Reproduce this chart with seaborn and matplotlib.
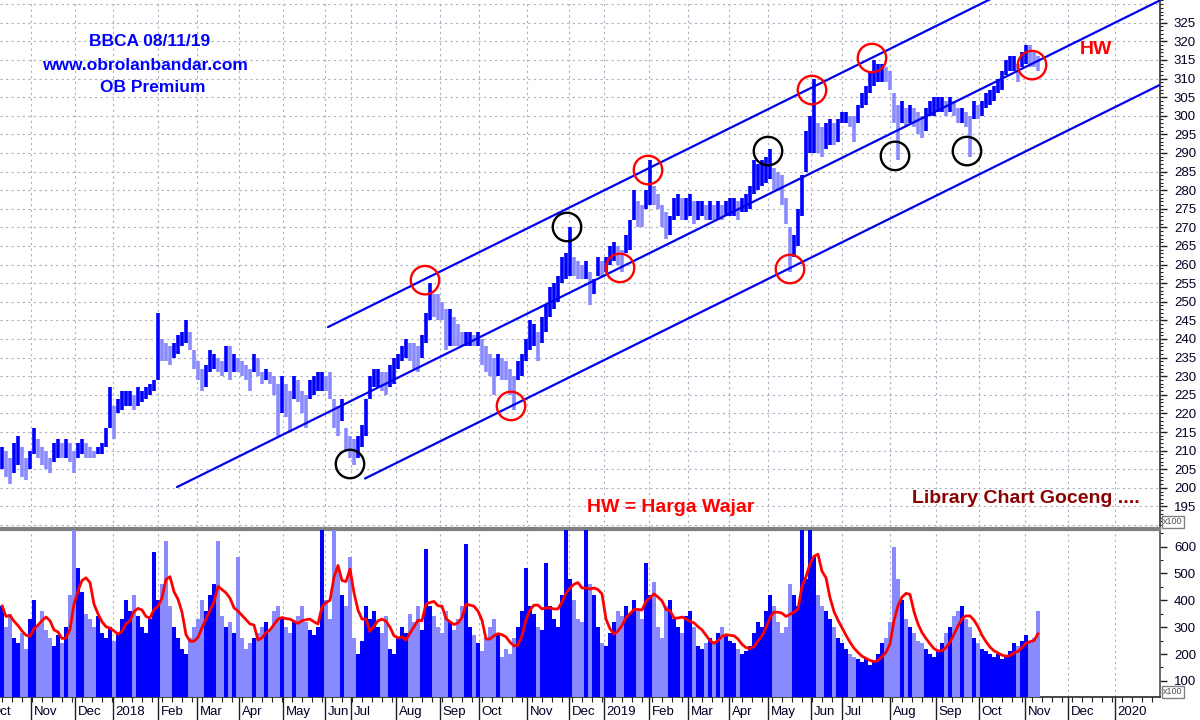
import numpy as np
import pandas as pd
import matplotlib
matplotlib.use("Agg")
import matplotlib.pyplot as plt
import seaborn as sns
from matplotlib.ticker import FixedLocator, MultipleLocator
from matplotlib.transforms import ScaledTranslation

# ---------------- data (each bar = ~2 trading days, values x100) ----------------
price_high = [
    211, 210, 208, 212, 214, 211, 208, 210, 216, 213,
    211, 210, 208, 212, 213, 212, 213, 212, 210, 212,
    213, 212, 211, 210, 211, 212, 216, 227, 222, 224,
    226, 226, 226, 225, 227, 226, 227, 228, 229, 247,
    240, 239, 238, 239, 241, 242, 245, 242, 237, 234,
    232, 233, 237, 236, 235, 234, 238, 238, 236, 235,
    234, 233, 232, 236, 235, 231, 232, 231, 230, 228,
    230, 228, 226, 230, 229, 226, 225, 229, 230, 231,
    231, 230, 231, 224, 222, 224, 216, 214, 213, 214,
    217, 224, 230, 232, 232, 231, 231, 233, 235, 236,
    238, 240, 239, 239, 238, 241, 247, 255, 252, 252,
    250, 248, 248, 246, 244, 242, 242, 242, 241, 242,
    240, 238, 236, 235, 236, 235, 234, 232, 230, 234,
    236, 240, 245, 244, 242, 246, 249, 254, 255, 257,
    262, 263, 270, 262, 261, 260, 261, 258, 256, 262,
    261, 262, 265, 266, 265, 264, 268, 272, 280, 277,
    276, 280, 288, 281, 279, 276, 274, 273, 278, 279,
    278, 278, 279, 277, 277, 277, 276, 277, 276, 277,
    276, 277, 278, 278, 277, 278, 279, 281, 288, 287,
    288, 289, 291, 286, 285, 284, 278, 270, 268, 275,
    284, 296, 300, 310, 298, 297, 298, 299, 298, 299,
    301, 301, 300, 300, 303, 306, 308, 312, 315, 314,
    314, 313, 312, 306, 303, 304, 302, 303, 302, 301,
    300, 302, 304, 305, 305, 305, 304, 305, 304, 302,
    302, 301, 300, 304, 303, 304, 306, 307, 308, 310,
    312, 315, 316, 316, 314, 317, 319, 319, 317, 316,
]
price_low = [
    205, 203, 201, 204, 206, 203, 202, 205, 209, 208,
    206, 205, 204, 207, 208, 208, 208, 207, 204, 208,
    209, 208, 208, 208, 209, 209, 211, 216, 213, 220,
    221, 222, 222, 221, 222, 223, 224, 225, 226, 229,
    234, 234, 233, 235, 236, 238, 239, 237, 232, 229,
    226, 227, 231, 232, 231, 230, 231, 229, 231, 231,
    230, 229, 226, 231, 230, 228, 229, 228, 225, 214,
    220, 219, 215, 224, 223, 220, 216, 224, 225, 226,
    226, 226, 224, 216, 214, 218, 210, 208, 206, 208,
    211, 214, 224, 227, 227, 226, 225, 227, 228, 232,
    234, 235, 234, 232, 231, 235, 239, 245, 246, 245,
    245, 237, 238, 238, 238, 238, 238, 238, 238, 238,
    233, 231, 230, 225, 230, 229, 229, 225, 221, 229,
    230, 234, 237, 238, 234, 239, 242, 246, 248, 250,
    255, 256, 257, 257, 256, 256, 256, 249, 252, 257,
    257, 258, 260, 261, 260, 258, 263, 264, 272, 270,
    270, 275, 276, 276, 275, 270, 267, 268, 272, 273,
    272, 272, 273, 271, 272, 273, 272, 272, 272, 272,
    272, 273, 273, 273, 272, 274, 274, 275, 279, 280,
    281, 282, 283, 280, 280, 276, 271, 258, 262, 265,
    273, 285, 290, 290, 290, 289, 291, 292, 292, 293,
    298, 298, 297, 293, 298, 302, 303, 306, 308, 309,
    309, 309, 307, 298, 288, 298, 297, 298, 297, 295,
    294, 296, 300, 300, 301, 301, 300, 301, 300, 298,
    298, 297, 289, 299, 299, 300, 302, 303, 304, 306,
    307, 311, 312, 312, 309, 313, 314, 313, 313, 312,
]
volume = [
    380, 300, 350, 260, 240, 280, 220, 330, 400, 310,
    360, 290, 260, 230, 270, 240, 300, 420, 700, 520,
    430, 350, 330, 300, 340, 280, 260, 300, 250, 280,
    330, 400, 360, 420, 340, 300, 280, 330, 580, 400,
    460, 620, 380, 300, 260, 220, 200, 260, 300, 330,
    400, 360, 420, 460, 620, 340, 300, 320, 280, 560,
    260, 220, 240, 260, 280, 300, 320, 290, 360, 380,
    330, 300, 280, 320, 340, 380, 320, 290, 270, 300,
    700, 400, 330, 700, 520, 420, 380, 560, 260, 200,
    250, 380, 330, 360, 300, 280, 340, 220, 200, 260,
    300, 280, 350, 320, 380, 290, 590, 380, 340, 300,
    280, 360, 320, 290, 330, 380, 610, 300, 270, 240,
    210, 260, 300, 330, 280, 190, 220, 200, 260, 300,
    360, 520, 380, 350, 300, 290, 540, 380, 330, 300,
    420, 700, 480, 400, 330, 320, 700, 460, 420, 300,
    240, 230, 280, 320, 360, 340, 380, 350, 400, 360,
    330, 540, 420, 470, 300, 260, 380, 400, 330, 300,
    280, 340, 360, 300, 230, 220, 240, 260, 250, 280,
    300, 270, 250, 240, 220, 200, 210, 230, 280, 320,
    300, 360, 420, 380, 320, 280, 300, 460, 420, 380,
    700, 480, 700, 560, 420, 380, 360, 330, 300, 260,
    240, 220, 200, 190, 180, 170, 180, 160, 170, 200,
    240, 260, 320, 600, 480, 400, 330, 300, 280, 250,
    240, 220, 200, 190, 210, 240, 280, 300, 340, 360,
    380, 330, 300, 260, 240, 220, 210, 200, 190, 200,
    180, 190, 210, 240, 230, 250, 270, 240, 260, 360,
]

month_labels = ["Nov", "Dec", "2018", "Feb", "Mar", "Apr", "May", "Jun", "Jul",
                "Aug", "Sep", "Oct", "Nov", "Dec", "2019", "Feb", "Mar", "Apr",
                "May", "Jun", "Jul", "Aug", "Sep", "Oct", "Nov", "Dec", "2020"]
month_pos = [7.25, 18.25, 27.75, 39, 48.75, 59.25, 70.25, 80.75, 87.25,
             98.5, 109.5, 119.25, 131.25, 141.75, 150.5, 161.75, 171.5, 181.75,
             191.5, 202.25, 210, 222, 233.5, 244.25, 255.75, 266.5, 278.25]

# trend channel (analyst lines): start / end anchors (bar index, price)
channel_x0 = [81.5, 43.75, 90.75]
channel_y0 = [243.2, 200.2, 202.5]
channel_x1 = [289.5, 289.5, 289.5]
channel_y1 = [353.9, 331.0, 308.3]

red_circle_x = [105.75, 127.25, 154.5, 161.5, 197, 202.5, 217.5, 257.5]
red_circle_y = [255.8, 222.0, 259.1, 285.4, 258.8, 306.9, 315.5, 313.6]
black_circle_x = [87, 141.25, 191.5, 223.25, 241.25]
black_circle_y = [206.4, 270.1, 290.5, 289.2, 290.5]

ma_window = 5

# ---------------- styling ----------------
sns.set_theme(style="white")
plt.rcParams["font.family"] = ["Liberation Sans", "DejaVu Sans"]

df = pd.DataFrame({"idx": np.arange(len(price_high)),
                   "high": price_high, "low": price_low, "vol": volume})
mid = (df["high"] + df["low"]) / 2
df["up"] = mid >= mid.shift(1).fillna(mid.iloc[0])
df["ma"] = df["vol"].rolling(ma_window, min_periods=1).mean()

dark = "#0000ff"
light = "#8a8aff"
colors = np.where(df["up"], dark, light)

fig = plt.figure(figsize=(12, 7.2), dpi=100)
fig.patch.set_facecolor("white")
W, H = 1200, 720
ax_p = fig.add_axes([0, 1 - 528 / H, 1160 / W, 528 / H])
ax_v = fig.add_axes([0, 1 - 697 / H, 1160 / W, (697 - 530) / H])

grid_kw = dict(color="#aab0c4", lw=0.8, ls=(0, (2, 3)), zorder=0)

# ---------- price panel ----------
ax_p.set_xlim(-0.5, 289.5)
ax_p.set_ylim(189.2, 331.1)
for gy in range(190, 335, 5):
    ax_p.axhline(gy, **grid_kw)
for gx in month_pos:
    ax_p.axvline(gx, **grid_kw)

ax_p.vlines(df["idx"], df["low"], df["high"], colors=colors, lw=2.6, zorder=3)

for x0, y0, x1, y1 in zip(channel_x0, channel_y0, channel_x1, channel_y1):
    sns.lineplot(x=[x0, x1], y=[y0, y1], color="#0000ee", lw=1.6, ax=ax_p,
                 zorder=4)

ax_p.scatter(red_circle_x, red_circle_y, s=420, facecolors="none",
             edgecolors="#ff0000", linewidths=1.7, zorder=5)
ax_p.scatter(black_circle_x, black_circle_y, s=420, facecolors="none",
             edgecolors="#000000", linewidths=1.7, zorder=5)

ax_p.yaxis.tick_right()
ax_p.yaxis.set_major_locator(FixedLocator(list(range(195, 330, 5))))
ax_p.yaxis.set_minor_locator(FixedLocator(list(range(190, 332))))
ax_p.tick_params(axis="y", which="major", right=True, left=False, length=5,
                 width=1, pad=5, labelsize=9.5, labelcolor="#000022",
                 color="#202020")
ax_p.tick_params(axis="y", which="minor", right=True, left=False, length=2.5,
                 width=0.8, color="#202020")
ax_p.set_xticks([])
ax_p.set_xlabel("")
ax_p.set_ylabel("")
for s in ["left", "top"]:
    ax_p.spines[s].set_visible(False)
ax_p.spines["right"].set_color("#303030")
ax_p.spines["right"].set_linewidth(1.2)
ax_p.spines["bottom"].set_color("#808080")
ax_p.spines["bottom"].set_linewidth(1.6)

# ---------- volume panel ----------
ax_v.set_xlim(-0.5, 289.5)
ax_v.set_ylim(40, 662)
for gx in month_pos:
    ax_v.axvline(gx, **grid_kw)
ax_v.bar(df["idx"], df["vol"] - 40, bottom=40, width=0.82, color=colors,
         lw=0, zorder=3)
sns.lineplot(x=df["idx"], y=df["ma"], color="#ff0000", lw=2.0, ax=ax_v,
             zorder=4)

ax_v.yaxis.tick_right()
ax_v.yaxis.set_major_locator(FixedLocator([100, 200, 300, 400, 500, 600]))
ax_v.yaxis.set_minor_locator(FixedLocator([150, 250, 350, 450, 550, 650]))
ax_v.tick_params(axis="y", which="major", right=True, left=False, length=5,
                 width=1, pad=5, labelsize=9.5, labelcolor="#000022",
                 color="#202020")
ax_v.tick_params(axis="y", which="minor", right=True, left=False, length=2.5,
                 width=0.8, color="#202020")

ax_v.xaxis.set_major_locator(FixedLocator(month_pos))
ax_v.set_xticklabels(month_labels)
ax_v.xaxis.set_minor_locator(MultipleLocator(2.5))
ax_v.tick_params(axis="x", which="major", bottom=True, length=17, width=1,
                 pad=-10.5, labelsize=9.5, labelcolor="#000022",
                 color="#202020")
ax_v.tick_params(axis="x", which="minor", bottom=True, length=3.5, width=0.8,
                 color="#202020")
offset = ScaledTranslation(0.025, 0, fig.dpi_scale_trans)
for lab in ax_v.get_xticklabels():
    lab.set_horizontalalignment("left")
    lab.set_transform(lab.get_transform() + offset)
ax_v.set_xlabel("")
ax_v.set_ylabel("")
ax_v.spines["left"].set_visible(False)
ax_v.spines["top"].set_color("#808080")
ax_v.spines["top"].set_linewidth(1.6)
ax_v.spines["right"].set_color("#505050")
ax_v.spines["right"].set_linewidth(1.2)
ax_v.spines["bottom"].set_color("#303030")

# partially visible first month label (Oct 2017) at the left edge
fig.text(-10 / W, 1 - 712 / H, "Oct", fontsize=9.5, color="#000022",
         ha="left", va="center")

# ---------- annotations ----------
blue = "#0000ff"
fig.text(150 / W, 1 - 41 / H, "BBCA 08/11/19", color=blue, fontsize=12.5,
         fontweight="bold", ha="center", va="center")
fig.text(145 / W, 1 - 65 / H, "www.obrolanbandar.com", color=blue,
         fontsize=12.5, fontweight="bold", ha="center", va="center")
fig.text(153 / W, 1 - 88 / H, "OB Premium", color=blue, fontsize=12.5,
         fontweight="bold", ha="center", va="center")
fig.text(1096 / W, 1 - 50 / H, "HW", color="#ff0000", fontsize=14,
         fontweight="bold", ha="center", va="center")
fig.text(671 / W, 1 - 512 / H, "HW = Harga Wajar", color="#ff0000",
         fontsize=14, fontweight="bold", ha="center", va="baseline")
fig.text(1140 / W, 1 - 503 / H, "Library Chart Goceng ....", color="#8b0000",
         fontsize=14, fontweight="bold", ha="right", va="baseline")

box = dict(boxstyle="square,pad=0.15", fc="white", ec="#808080", lw=1)
fig.text(1163 / W, 1 - 522 / H, "x100", fontsize=6.5, color="#505050",
         ha="left", va="center", bbox=box)
fig.text(1163 / W, 1 - 692 / H, "x100", fontsize=6.5, color="#505050",
         ha="left", va="center", bbox=box)

fig.savefig("out.png", dpi=100, facecolor="white")
